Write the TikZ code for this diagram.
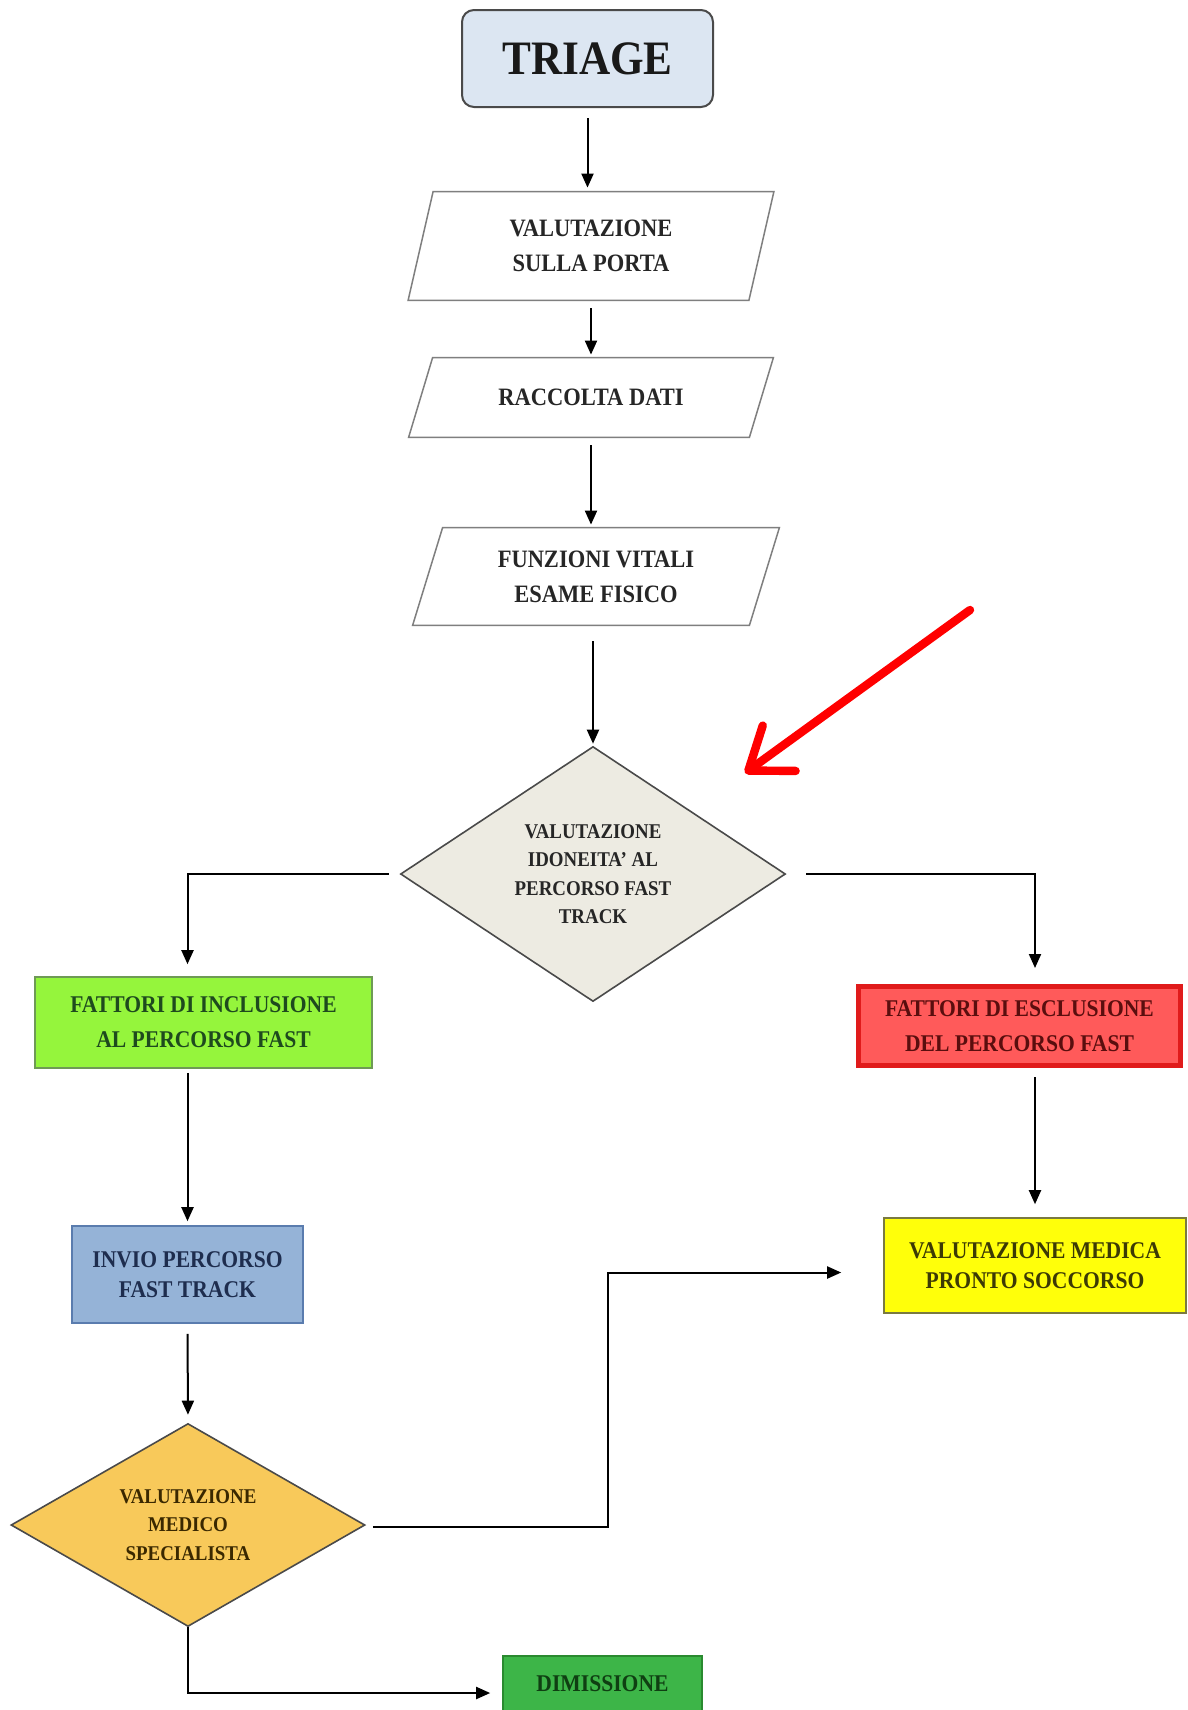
\documentclass[tikz,border=0pt]{standalone}
\usepackage{fontspec}
\setmainfont{Liberation Serif}[FakeStretch=0.9]
\usetikzlibrary{shapes.geometric,arrows.meta,backgrounds}
\definecolor{triagefill}{HTML}{DCE6F2}
\definecolor{boxline}{HTML}{4A4A4A}
\definecolor{paraline}{HTML}{7F7F7F}
\definecolor{diafill}{HTML}{EDEBE2}
\definecolor{greenfill}{HTML}{95F53C}
\definecolor{greenline}{HTML}{6E9A55}
\definecolor{greentext}{HTML}{1E4A1E}
\definecolor{bluefill}{HTML}{95B3D7}
\definecolor{blueline}{HTML}{5A7CAE}
\definecolor{bluetext}{HTML}{1E2D4E}
\definecolor{redfill}{HTML}{FF5A5A}
\definecolor{redline}{HTML}{E01B1B}
\definecolor{redtext}{HTML}{5A0E0E}
\definecolor{yelfill}{HTML}{FFFF0A}
\definecolor{yelline}{HTML}{7A7A40}
\definecolor{yeltext}{HTML}{3C3A05}
\definecolor{orfill}{HTML}{F8C95A}
\definecolor{ortext}{HTML}{3A2800}
\definecolor{dimfill}{HTML}{3DB548}
\definecolor{dimline}{HTML}{2A8A30}
\definecolor{dimtext}{HTML}{0F3F12}
\definecolor{arrowred}{HTML}{FF0000}
\begin{document}
\begin{tikzpicture}[x=0.5pt,y=-0.5pt,
  every node/.style={align=center, inner sep=0pt},
  boxtext/.style={font=\bfseries\fontsize{12}{17.5}\selectfont},
  paratext/.style={font=\bfseries\fontsize{12.5}{17.5}\selectfont, text=black!85},
  parashape/.style={draw=paraline, line width=0.75pt, fill=white},
  diatext/.style={font=\bfseries\fontsize{10.5}{14.2}\selectfont},
  conn/.style={draw=black, line width=1pt, -{Triangle[length=7pt,width=6pt]}},
  redarrow/.style={draw=arrowred, line width=4.2pt, line cap=round,
    -{Straight Barb[length=19pt,width=28pt,line cap=round,line join=round]}}
]
\useasboundingbox (0,0) rectangle (1188,1710);

% nodes
\node[draw=boxline, line width=1pt, fill=triagefill, rounded corners=6pt,
      minimum width=125.5pt, minimum height=48.5pt,
      font=\bfseries\fontsize{24}{28}\selectfont, text=black!90]
      (triage) at (587.5,58.5) {TRIAGE};

\node[paratext, minimum width=170pt, minimum height=54pt] (p1) at (591,246)
      {VALUTAZIONE\\SULLA PORTA};
\node[paratext, minimum width=170pt, minimum height=39.5pt] (p2) at (591,397.5)
      {RACCOLTA DATI};
\node[paratext, minimum width=168pt, minimum height=48.5pt] (p3) at (596,576.5)
      {FUNZIONI VITALI\\ESAME FISICO};

\node[diamond, shape aspect=1.5, draw=boxline, line width=0.8pt, fill=diafill,
      minimum width=192.5pt, minimum height=127.5pt, diatext, text=black!85]
      (d1) at (593,874) {VALUTAZIONE\\IDONEITA' AL\\PERCORSO FAST\\TRACK};

\node[draw=greenline, line width=0.8pt, fill=greenfill, boxtext, text=greentext,
      minimum width=168.5pt, minimum height=45.5pt]
      (g1) at (203.5,1022.5) {FATTORI DI INCLUSIONE\\AL PERCORSO FAST};

\node[draw=redline, line width=2.5pt, fill=redfill, boxtext, text=redtext,
      minimum width=161pt, minimum height=39.5pt]
      (r1) at (1019.5,1026) {FATTORI DI ESCLUSIONE\\DEL PERCORSO FAST};

\node[draw=blueline, line width=0.8pt, fill=bluefill,
      font=\bfseries\fontsize{12}{15}\selectfont, text=bluetext,
      minimum width=115.5pt, minimum height=48.5pt]
      (b1) at (187.5,1274.5) {INVIO PERCORSO\\FAST TRACK};

\node[draw=yelline, line width=0.8pt, fill=yelfill,
      font=\bfseries\fontsize{12}{15}\selectfont, text=yeltext,
      minimum width=151pt, minimum height=47.5pt]
      (y1) at (1035,1265.5) {VALUTAZIONE MEDICA\\PRONTO SOCCORSO};

\node[diamond, shape aspect=1.74, draw=boxline, line width=0.8pt, fill=orfill,
      minimum width=177pt, minimum height=101.5pt, diatext, text=ortext]
      (d2) at (188,1525) {VALUTAZIONE\\MEDICO\\SPECIALISTA};

\node[draw=dimline, line width=0.8pt, fill=dimfill,
      font=\bfseries\fontsize{12}{15}\selectfont, text=dimtext,
      minimum width=99.5pt, minimum height=28pt]
      (dim) at (602.5,1684) {DIMISSIONE};

% connectors
\draw[conn, shorten <=5pt, shorten >=2pt] (triage.south) -- (triage.south |- p1.north);
\draw[conn, shorten <=4pt, shorten >=1.5pt] (p1.south) -- (p2.north);
\draw[conn, shorten <=4pt, shorten >=1.5pt] (p2.south) -- (p2.south |- p3.north);
\draw[conn, shorten <=8pt, shorten >=1pt] (d1.north |- p3.south) -- (d1.north);
\draw[conn, shorten <=5.5pt, shorten >=6pt] (d1.west) -| (b1.north |- g1.north);
\draw[conn, shorten <=10pt, shorten >=8pt] (d1.east) -| (y1.north |- r1.north);
\draw[conn, shorten <=2pt, shorten >=2pt] (b1.north |- g1.south) -- (b1.north);
\draw[conn, shorten <=4.5pt, shorten >=6.5pt] (y1.north |- r1.south) -- (y1.north);
\draw[conn, shorten <=5pt, shorten >=4pt] (b1.south) -- (d2.north);
\draw[conn, shorten <=3.5pt, shorten >=21pt] ([yshift=-1pt]d2.east) -- ++(242,0) |- ([yshift=-3.5pt]y1.west);
\draw[conn, shorten >=6pt] (d2.south) |- ([yshift=-4.5pt]dim.west);

% red pointer arrow
\coordinate (rtail) at (970,610);
\coordinate (rhead) at (745,773);
\draw[redarrow] (rtail) -- (rhead);

% background layer: page and parallelograms
\begin{scope}[on background layer]
  \fill[white] (0,0) rectangle (1188,1710);
  \draw[parashape] ([xshift=6.25pt]p1.north west) -- ([xshift=6.25pt]p1.north east)
    -- ([xshift=-6.25pt]p1.south east) -- ([xshift=-6.25pt]p1.south west) -- cycle;
  \draw[parashape] ([xshift=6pt]p2.north west) -- ([xshift=6pt]p2.north east)
    -- ([xshift=-6pt]p2.south east) -- ([xshift=-6pt]p2.south west) -- cycle;
  \draw[parashape] ([xshift=7.5pt]p3.north west) -- ([xshift=7.5pt]p3.north east)
    -- ([xshift=-7.5pt]p3.south east) -- ([xshift=-7.5pt]p3.south west) -- cycle;
\end{scope}
\end{tikzpicture}
\end{document}
